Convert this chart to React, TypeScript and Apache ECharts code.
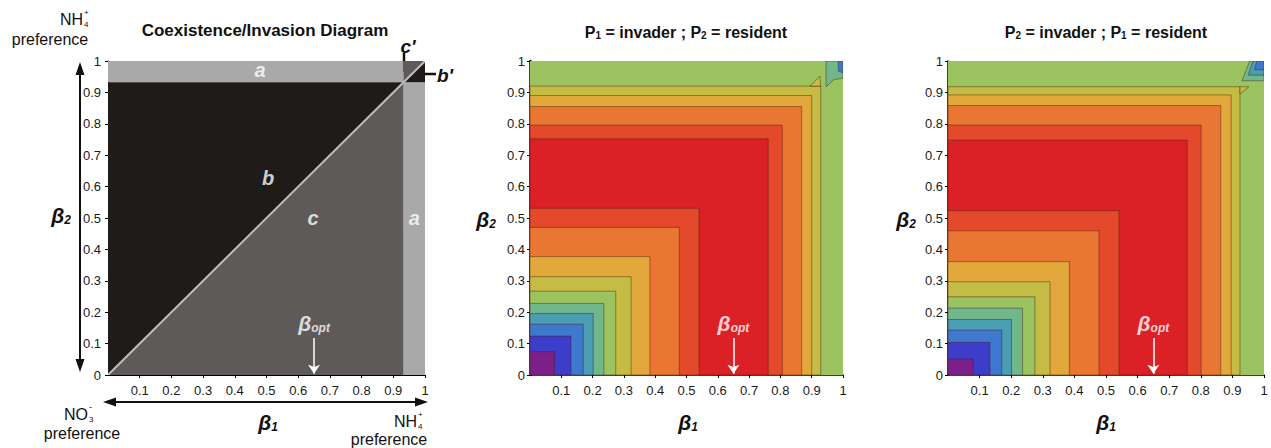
import React, { useEffect, useRef } from 'react';
import * as echarts from 'echarts';

const FONT = "'Liberation Sans', Arial, sans-serif";

// ---- data ----
const coexistThreshold = 0.932; // boundary of region a
const betaOpt = 0.65;

const bandColors = [
  '#7D1F8B', '#3C3DCA', '#3F78CF', '#4A9DB3', '#70B78B', '#9BC35F', '#C5BC45', '#E2A83B',
  '#E97733', '#E4492B', '#DB2026', '#E4492B', '#E97733', '#E2A83B', '#C5BC45', '#9BC35F',
];
// outer edges (beta1 extent, beta2 extent) of each nested contour band, innermost first
const p1InvaderX = [0.078, 0.131, 0.170, 0.202, 0.236, 0.274, 0.323, 0.383, 0.477, 0.540, 0.761, 0.806, 0.868, 0.900, 0.929, 1];
const p1InvaderY = [0.074, 0.124, 0.162, 0.196, 0.228, 0.267, 0.313, 0.377, 0.470, 0.531, 0.752, 0.796, 0.855, 0.890, 0.920, 1];
const p2InvaderX = [0.080, 0.133, 0.170, 0.201, 0.236, 0.275, 0.323, 0.384, 0.478, 0.541, 0.757, 0.801, 0.863, 0.896, 0.924, 1];
const p2InvaderY = [0.051, 0.104, 0.143, 0.177, 0.213, 0.249, 0.297, 0.361, 0.459, 0.523, 0.748, 0.796, 0.858, 0.892, 0.918, 1];

// corner patches [colorIndex, polygon]
const p1InvaderPatches: [number, number[][]][] = [
  [6, [[0.895, 0.92], [0.926, 0.952], [0.929, 0.92]]],
  [4, [[0.946, 1], [0.946, 0.918], [0.97, 0.94], [1, 0.946], [1, 1]]],
  [2, [[0.985, 1], [0.985, 0.968], [1, 0.962], [1, 1]]],
];
const p2InvaderPatches: [number, number[][]][] = [
  [6, [[0.924, 0.895], [0.952, 0.918], [0.924, 0.918]]],
  [4, [[0.955, 1], [0.93, 0.937], [1, 0.937], [1, 1]]],
  [3, [[0.965, 1], [0.95, 0.955], [1, 0.955], [1, 1]]],
  [2, [[0.978, 1], [0.97, 0.972], [1, 0.972], [1, 1]]],
];

const regionLetters: [number, number, string][] = [
  [0.48, 0.97, 'a'],
  [0.966, 0.5, 'a'],
  [0.505, 0.627, 'b'],
  [0.647, 0.5, 'c'],
];

const LIGHT = '#A9A9A9';
const BLACK = '#1F1B19';
const DARK = '#5E5A59';

function leftPolys(t: number): [string, number[][]][] {
  return [
    [LIGHT, [[0, t], [t, t], [t, 1], [0, 1]]],
    [LIGHT, [[t, 0], [1, 0], [1, t], [t, t]]],
    [BLACK, [[0, 0], [t, t], [0, t]]],
    [DARK, [[0, 0], [t, 0], [t, t]]],
    [DARK, [[t, t], [t, 1], [1, 1]]],
    [BLACK, [[t, t], [1, t], [1, 1]]],
  ];
}

const fmt = (v: number) => (Math.abs(v) < 1e-9 ? '0' : Math.abs(v - 1) < 1e-9 ? '1' : v.toFixed(1));

function axis(gridIndex: number, isX: boolean, lineWidth: number, margin: number) {
  return {
    type: 'value',
    gridIndex,
    min: 0,
    max: 1,
    interval: 0.1,
    axisLine: { show: true, onZero: false, lineStyle: { color: '#000', width: lineWidth } },
    axisTick: { show: true, length: 3, lineStyle: { color: '#000', width: 1 } },
    splitLine: { show: false },
    axisLabel: {
      color: '#1a1a1a',
      fontSize: 13,
      fontFamily: FONT,
      margin,
      formatter: fmt,
      showMinLabel: !isX,
    },
  };
}

function bandSeries(g: number, xs: number[], ys: number[]) {
  const data = xs.map((x, i) => [x, ys[i], i]).reverse();
  return {
    type: 'custom',
    xAxisIndex: g,
    yAxisIndex: g,
    silent: true,
    clip: true,
    data,
    renderItem: (_p: any, api: any) => {
      const w = api.value(0);
      const h = api.value(1);
      const ci = api.value(2);
      const p0 = api.coord([0, 0]);
      const p1 = api.coord([w, h]);
      return {
        type: 'rect',
        shape: { x: p0[0], y: p1[1], width: p1[0] - p0[0], height: p0[1] - p1[1] },
        style: { fill: bandColors[ci], stroke: ci === 15 ? 'none' : 'rgba(70,30,15,0.45)', lineWidth: 1 },
      };
    },
  };
}

function patchSeries(g: number, patches: [number, number[][]][]) {
  return {
    type: 'custom',
    xAxisIndex: g,
    yAxisIndex: g,
    silent: true,
    clip: true,
    data: patches.map((_, i) => [i]),
    renderItem: (_p: any, api: any) => {
      const [ci, pts] = patches[api.value(0)];
      return {
        type: 'polygon',
        shape: { points: pts.map((p) => api.coord(p)) },
        style: { fill: bandColors[ci], stroke: 'rgba(70,30,15,0.45)', lineWidth: 1 },
      };
    },
  };
}

function betaOptSeries(g: number) {
  return {
    type: 'scatter',
    xAxisIndex: g,
    yAxisIndex: g,
    silent: true,
    symbolSize: 1,
    itemStyle: { color: 'rgba(0,0,0,0)' },
    data: [[betaOpt, 0.168]],
    label: {
      show: true,
      position: 'inside',
      formatter: '{b|β}{s|opt}',
      rich: {
        b: { fontSize: 21, fontStyle: 'italic', fontWeight: 'bold', fontFamily: FONT, color: '#fff', lineHeight: 24, verticalAlign: 'bottom' },
        s: { fontSize: 12, fontStyle: 'italic', fontWeight: 'bold', fontFamily: FONT, color: '#fff', lineHeight: 12, verticalAlign: 'bottom' },
      },
    },
    markLine: {
      silent: true,
      symbol: ['none', 'arrow'],
      symbolSize: 9,
      lineStyle: { color: '#fff', width: 1.5, type: 'solid' },
      label: { show: false },
      data: [[{ coord: [betaOpt, 0.118] }, { coord: [betaOpt, 0.004] }]],
    },
  };
}

const txt = (x: number, y: number, text: string, style: any = {}) => ({
  type: 'text',
  x,
  y,
  silent: true,
  style: {
    text,
    fill: '#111',
    fontFamily: FONT,
    fontSize: 16,
    align: 'center',
    verticalAlign: 'middle',
    ...style,
  },
});

const betaRich = {
  b: { fontSize: 21, fontWeight: 'bold', fontStyle: 'italic', fontFamily: FONT, color: '#111', lineHeight: 24, verticalAlign: 'bottom' },
  s: { fontSize: 12, fontWeight: 'bold', fontStyle: 'italic', fontFamily: FONT, color: '#111', lineHeight: 12, verticalAlign: 'bottom' },
};
const titleRich = {
  b: { fontSize: 16, fontWeight: 'bold', fontFamily: FONT, color: '#111', lineHeight: 20, verticalAlign: 'bottom' },
  s: { fontSize: 10, fontWeight: 'bold', fontFamily: FONT, color: '#111', lineHeight: 10, verticalAlign: 'bottom' },
};

function arrowV(x: number, y1: number, y2: number) {
  return [
    { type: 'line', silent: true, shape: { x1: x, y1: y1 + 6, x2: x, y2: y2 - 6 }, style: { stroke: '#111', lineWidth: 2 } },
    { type: 'polygon', silent: true, shape: { points: [[x, y1], [x - 4.5, y1 + 13], [x + 4.5, y1 + 13]] }, style: { fill: '#111' } },
    { type: 'polygon', silent: true, shape: { points: [[x, y2], [x - 4.5, y2 - 13], [x + 4.5, y2 - 13]] }, style: { fill: '#111' } },
  ];
}
function arrowH(y: number, x1: number, x2: number) {
  return [
    { type: 'line', silent: true, shape: { x1: x1 + 6, y1: y, x2: x2 - 6, y2: y }, style: { stroke: '#111', lineWidth: 2 } },
    { type: 'polygon', silent: true, shape: { points: [[x1, y], [x1 + 13, y - 4.5], [x1 + 13, y + 4.5]] }, style: { fill: '#111' } },
    { type: 'polygon', silent: true, shape: { points: [[x2, y], [x2 - 13, y - 4.5], [x2 - 13, y + 4.5]] }, style: { fill: '#111' } },
  ];
}

export default function App() {
  const ref = useRef<HTMLDivElement>(null);
  useEffect(() => {
    if (!ref.current) return;
    const chart = echarts.init(ref.current, undefined, { renderer: 'svg' });
    const polys = leftPolys(coexistThreshold);

    const option: any = {
      animation: false,
      backgroundColor: '#fff',
      grid: [
        { left: 108, top: 61, width: 317, height: 314 },
        { left: 530, top: 61, width: 313, height: 314 },
        { left: 948, top: 61, width: 316, height: 314 },
      ],
      xAxis: [axis(0, true, 1, 9), axis(1, true, 1.5, 9), axis(2, true, 1.5, 9)],
      yAxis: [axis(0, false, 1, 7), axis(1, false, 2.5, 5), axis(2, false, 1.5, 5)],
      series: [
        {
          type: 'custom',
          xAxisIndex: 0,
          yAxisIndex: 0,
          silent: true,
          clip: true,
          data: polys.map((_, i) => [i]),
          renderItem: (_p: any, api: any) => {
            const [fill, pts] = polys[api.value(0)];
            return { type: 'polygon', shape: { points: pts.map((p) => api.coord(p)) }, style: { fill } };
          },
        },
        {
          type: 'custom',
          xAxisIndex: 0,
          yAxisIndex: 0,
          silent: true,
          clip: true,
          data: [[0, 0, 1, 1]],
          renderItem: (_p: any, api: any) => {
            const a = api.coord([api.value(0), api.value(1)]);
            const b = api.coord([api.value(2), api.value(3)]);
            return { type: 'line', shape: { x1: a[0], y1: a[1], x2: b[0], y2: b[1] }, style: { stroke: '#BDBDBD', lineWidth: 2 } };
          },
        },
        {
          type: 'scatter',
          xAxisIndex: 0,
          yAxisIndex: 0,
          silent: true,
          symbolSize: 1,
          itemStyle: { color: 'rgba(0,0,0,0)' },
          data: regionLetters,
          label: {
            show: true,
            position: 'inside',
            formatter: (p: any) => p.data[2],
            color: '#fff',
            fontSize: 20,
            fontWeight: 'bold',
            fontStyle: 'italic',
            fontFamily: FONT,
          },
        },
        betaOptSeries(0),
        bandSeries(1, p1InvaderX, p1InvaderY),
        patchSeries(1, p1InvaderPatches),
        betaOptSeries(1),
        bandSeries(2, p2InvaderX, p2InvaderY),
        patchSeries(2, p2InvaderPatches),
        betaOptSeries(2),
      ],
      graphic: [
        txt(265, 30, 'Coexistence/Invasion Diagram', { fontSize: 17, fontWeight: 'bold' }),
        txt(686, 30, '{b|P}{s|1}{b| = invader ; P}{s|2}{b| = resident}', { rich: titleRich }),
        txt(1106, 30, '{b|P}{s|2}{b| = invader ; P}{s|1}{b| = resident}', { rich: titleRich }),
        // NH4+ preference (top-left)
        txt(83, 19, 'NH', { align: 'right' }),
        txt(84, 24, '4', { align: 'left', fontSize: 8 }),
        txt(84, 12, '+', { align: 'left', fontSize: 8 }),
        txt(50, 39, 'preference'),
        // NO3- preference (bottom-left)
        txt(88, 414, 'NO', { align: 'right' }),
        txt(89, 419, '3', { align: 'left', fontSize: 8 }),
        txt(89, 407, '-', { align: 'left', fontSize: 9 }),
        txt(82, 433, 'preference'),
        // NH4+ preference (bottom-right)
        txt(417, 421, 'NH', { align: 'right' }),
        txt(418, 426, '4', { align: 'left', fontSize: 8 }),
        txt(418, 414, '+', { align: 'left', fontSize: 8 }),
        txt(389, 439, 'preference'),
        // axis names
        txt(61, 214, '{b|β}{s|2}', { rich: betaRich }),
        txt(268, 421, '{b|β}{s|1}', { rich: betaRich }),
        txt(486, 218, '{b|β}{s|2}', { rich: betaRich }),
        txt(688, 421, '{b|β}{s|1}', { rich: betaRich }),
        txt(906, 218, '{b|β}{s|2}', { rich: betaRich }),
        txt(1106, 421, '{b|β}{s|1}', { rich: betaRich }),
        // arrows
        ...arrowV(80, 62, 372),
        ...arrowH(402, 103, 428),
        // c' and b' call-outs
        txt(408, 46, "c'", { fontSize: 19, fontWeight: 'bold', fontStyle: 'italic' }),
        { type: 'line', silent: true, shape: { x1: 404, y1: 53, x2: 404, y2: 72 }, style: { stroke: '#111', lineWidth: 2.5 } },
        { type: 'line', silent: true, shape: { x1: 424, y1: 74, x2: 436, y2: 74 }, style: { stroke: '#111', lineWidth: 2.5 } },
        txt(445, 75, "b'", { fontSize: 19, fontWeight: 'bold', fontStyle: 'italic' }),
      ],
    };
    chart.setOption(option);
    return () => chart.dispose();
  }, []);
  return <div ref={ref} style={{ position: 'absolute', left: 0, top: 0, width: 1271, height: 448 }} />;
}
